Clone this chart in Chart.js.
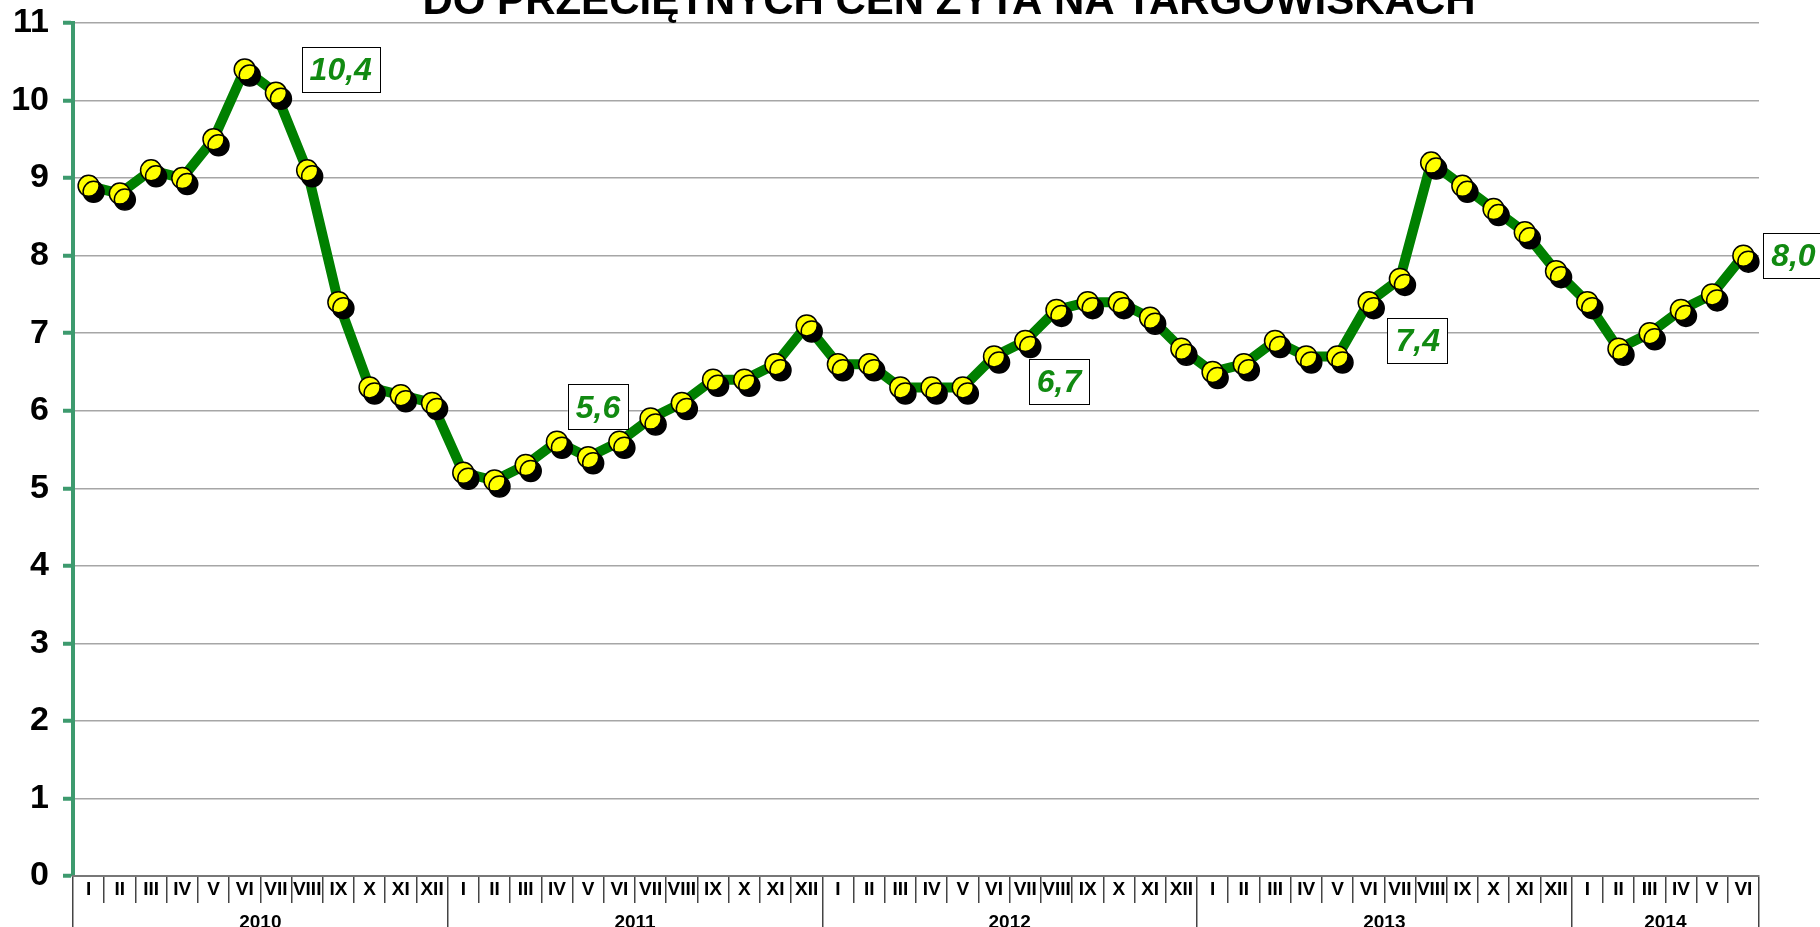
<!DOCTYPE html>
<html>
<head>
<meta charset="utf-8">
<script src="https://cdn.jsdelivr.net/npm/chart.js@4"></script>
<style>
  html, body { margin: 0; padding: 0; background: #fff; overflow: hidden; }
  #wrap { width: 1820px; height: 927px; }
</style>
</head>
<body>
<div id="wrap"><canvas id="ryeChart" width="1820" height="927"></canvas></div>
<script>
// data
const titleText = 'DO PRZECIĘTNYCH CEN ŻYTA NA TARGOWISKACH';
const monthNames = ['I', 'II', 'III', 'IV', 'V', 'VI', 'VII', 'VIII', 'IX', 'X', 'XI', 'XII'];
const years = ['2010', '2011', '2012', '2013', '2014'];
const monthsPerYear = [12, 12, 12, 12, 6];
const values = [
  8.9, 8.8, 9.1, 9.0, 9.5, 10.4, 10.1, 9.1, 7.4, 6.3, 6.2, 6.1,   // 2010
  5.2, 5.1, 5.3, 5.6, 5.4, 5.6, 5.9, 6.1, 6.4, 6.4, 6.6, 7.1,     // 2011
  6.6, 6.6, 6.3, 6.3, 6.3, 6.7, 6.9, 7.3, 7.4, 7.4, 7.2, 6.8,     // 2012
  6.5, 6.6, 6.9, 6.7, 6.7, 7.4, 7.7, 9.2, 8.9, 8.6, 8.3, 7.8,     // 2013
  7.4, 6.8, 7.0, 7.3, 7.5, 8.0                                    // 2014
];
const yTicks = [0, 1, 2, 3, 4, 5, 6, 7, 8, 9, 10, 11];
// which points get a boxed value label, and where the box sits relative to the point
const labelIdx = [5, 15, 29, 41, 53];
const labelOffset = [[96, 0], [41, -35], [65, 25], [49, 38], [50, 0]];

// month labels for each category
const labels = [];
monthsPerYear.forEach(n => { for (let i = 0; i < n; i++) labels.push(monthNames[i]); });

// year boundaries / centres on a linear scale matching the category positions
const yearBounds = [-0.5];
const yearCenters = [];
monthsPerYear.forEach(n => {
  const start = yearBounds[yearBounds.length - 1];
  yearCenters.push(start + n / 2);
  yearBounds.push(start + n);
});

const green = '#008000';
const axisGreen = '#3d9a6e';
Chart.defaults.font.family = '"Liberation Sans", Arial, sans-serif';

// yellow markers get a hard black drop shadow
const markerShadow = {
  id: 'markerShadow',
  beforeDatasetDraw(chart, args) {
    if (args.index !== 1) return;
    const ctx = chart.ctx;
    ctx.save();
    ctx.shadowColor = '#000';
    ctx.shadowBlur = 0;
    ctx.shadowOffsetX = 5;
    ctx.shadowOffsetY = 6;
  },
  afterDatasetDraw(chart, args) {
    if (args.index !== 1) return;
    chart.ctx.restore();
  }
};

// boxed value labels + clipped title
const boxLabels = {
  id: 'boxLabels',
  afterDraw(chart) {
    const ctx = chart.ctx;
    const xs = chart.scales.x, ys = chart.scales.y;
    ctx.save();
    ctx.font = 'bold italic 32px "Liberation Sans", Arial, sans-serif';
    ctx.textAlign = 'center';
    ctx.textBaseline = 'middle';
    labelIdx.forEach((idx, k) => {
      const txt = values[idx].toFixed(1).replace('.', ',');
      const cx = xs.getPixelForValue(idx) + labelOffset[k][0];
      const cy = ys.getPixelForValue(values[idx]) + labelOffset[k][1];
      const w = ctx.measureText(txt).width + 16;
      const h = 45;
      ctx.fillStyle = '#fff';
      ctx.fillRect(cx - w / 2, cy - h / 2, w, h);
      ctx.strokeStyle = '#000';
      ctx.lineWidth = 1;
      ctx.strokeRect(Math.round(cx - w / 2) + 0.5, Math.round(cy - h / 2) + 0.5, Math.round(w), h);
      ctx.fillStyle = '#118a11';
      ctx.fillText(txt, cx, cy + 2);
    });

    ctx.font = 'bold 42px "Liberation Sans", Arial, sans-serif';
    ctx.fillStyle = '#000';
    ctx.textBaseline = 'alphabetic';
    ctx.fillText(titleText, 949, 14);
    ctx.restore();
  }
};

new Chart(document.getElementById('ryeChart'), {
  type: 'line',
  data: {
    labels: labels,
    datasets: [{
      data: values,
      borderColor: green,
      borderWidth: 10,
      borderJoinStyle: 'round',
      pointRadius: 0,
      tension: 0,
      fill: false,
      order: 2
    }, {
      data: values,
      showLine: false,
      pointRadius: 10.5,
      pointBackgroundColor: '#ffff00',
      pointBorderColor: '#000',
      pointBorderWidth: 1.5,
      order: 1
    }]
  },
  options: {
    responsive: false,
    animation: false,
    layout: { padding: { top: 23, right: 61, left: 0, bottom: 0 } },
    plugins: {
      legend: { display: false },
      tooltip: { enabled: false },
      title: { display: false }
    },
    scales: {
      y: {
        min: 0,
        max: 11,
        afterFit(axis) { axis.width = 73; },
        afterBuildTicks(axis) { axis.ticks = yTicks.map(v => ({ value: v })); },
        ticks: {
          color: '#000',
          font: { size: 34, weight: 'bold', lineHeight: 0.5 },
          padding: 14
        },
        grid: {
          color: '#a6a6a6',
          lineWidth: 1.5,
          tickColor: axisGreen,
          tickLength: 10,
          tickWidth: 4
        },
        border: { color: axisGreen, width: 4 }
      },
      x: {
        type: 'category',
        offset: true,
        afterFit(axis) { axis.height = 27; },
        ticks: {
          color: '#000',
          font: { size: 19, weight: 'bold' },
          padding: -25,
          maxRotation: 0,
          autoSkip: false
        },
        grid: {
          offset: true,
          drawOnChartArea: false,
          color: '#444',
          lineWidth: 1.5,
          tickLength: 27
        },
        border: { color: '#777', width: 2 }
      },
      x2: {
        type: 'linear',
        position: 'bottom',
        min: -0.5,
        max: 53.5,
        afterFit(axis) { axis.height = 24; },
        afterBuildTicks(axis) {
          const t = [];
          yearBounds.forEach(v => t.push({ value: v }));
          yearCenters.forEach(v => t.push({ value: v }));
          t.sort((a, b) => a.value - b.value);
          axis.ticks = t;
        },
        ticks: {
          color: '#000',
          font: { size: 19, weight: 'bold' },
          padding: -22,
          maxRotation: 0,
          autoSkip: false,
          callback(value) {
            const i = yearCenters.indexOf(value);
            return i >= 0 ? years[i] : '';
          }
        },
        grid: {
          drawOnChartArea: false,
          lineWidth: 1.5,
          tickLength: 30,
          color(ctx) {
            return ctx.tick && yearBounds.includes(ctx.tick.value) ? '#444' : 'rgba(0,0,0,0)';
          }
        },
        border: { display: false }
      }
    }
  },
  plugins: [markerShadow, boxLabels]
});
</script>
</body>
</html>
